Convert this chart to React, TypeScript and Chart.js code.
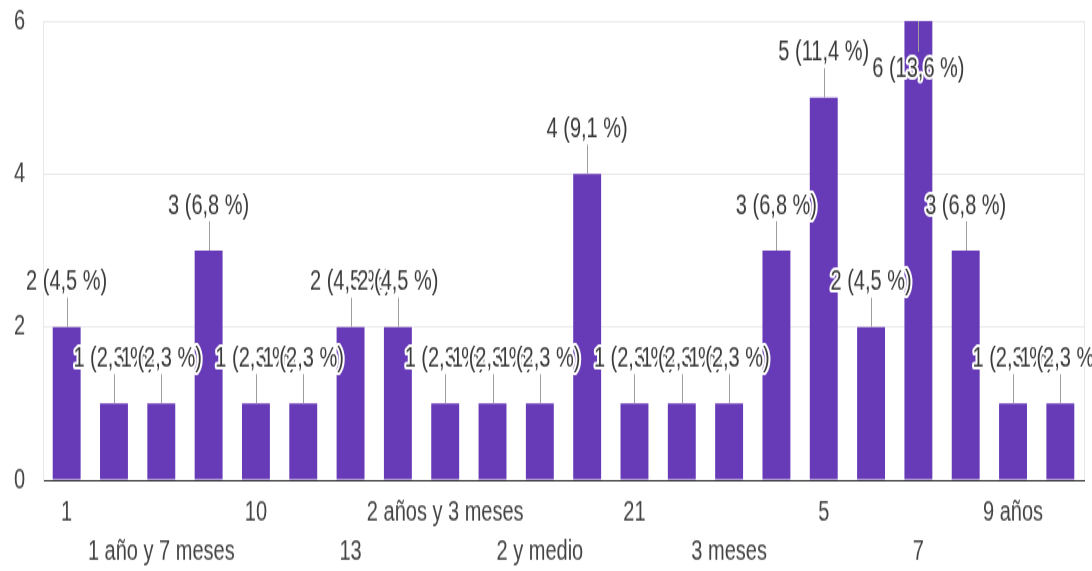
import React, { useEffect, useRef } from 'react';
import { Chart, registerables } from 'chart.js';

Chart.register(...registerables);

// ---- data ----
const categories: string[] = [
  '1', '1 año', '1 año y 7 meses', '1 y medio', '10', '12', '13', '2',
  '2 años y 3 meses', '2 meses', '2 y medio', '20', '21', '3', '3 meses',
  '4', '5', '6', '7', '8', '9 años', '9 meses',
];
const counts: number[] = [2, 1, 1, 3, 1, 1, 2, 2, 1, 1, 1, 4, 1, 1, 1, 3, 5, 2, 6, 3, 1, 1];
const yTickValues: number[] = [0, 2, 4, 6];

// ---- layout (canvas is drawn at logical height and stretched vertically) ----
const OUT_W = 1092;
const OUT_H = 571;
const LOG_H = 408;
const FONT = '"Liberation Sans", Arial, Helvetica, sans-serif';
const BAR_COLOR = '#673ab7';
const TEXT_COLOR = '#444444';
const GRID_COLOR = '#e8e8e8';

const total = counts.reduce((a, b) => a + b, 0);
const labelText = (v: number) => `${v} (${((v / total) * 100).toFixed(1).replace('.', ',')} %)`;

const framePlugin = {
  id: 'frameRight',
  beforeDatasetsDraw(chart: any) {
    const { ctx, chartArea } = chart;
    ctx.save();
    ctx.strokeStyle = GRID_COLOR;
    ctx.lineWidth = 1;
    ctx.beginPath();
    const x = Math.round(chartArea.right) + 0.5;
    ctx.moveTo(x, chartArea.top);
    ctx.lineTo(x, chartArea.bottom);
    ctx.stroke();
    ctx.restore();
  },
};

const annotationPlugin = {
  id: 'barAnnotations',
  afterDatasetsDraw(chart: any) {
    const { ctx } = chart;
    const meta = chart.getDatasetMeta(0);
    const items = meta.data.map((el: any, i: number) => {
      const top = el.y;
      const inside = top - 42 < 0;
      return {
        x: el.x,
        top,
        l1: inside ? top + 22 : top - 21,
        ly: inside ? top + 34 : top - 32,
        txt: labelText(counts[i]),
      };
    });
    ctx.save();
    ctx.strokeStyle = '#9e9e9e';
    ctx.lineWidth = 1;
    items.forEach((it: any) => {
      const x = Math.round(it.x) + 0.5;
      ctx.beginPath();
      ctx.moveTo(x, it.top);
      ctx.lineTo(x, it.l1);
      ctx.stroke();
    });
    ctx.font = `20px ${FONT}`;
    ctx.textAlign = 'center';
    ctx.textBaseline = 'middle';
    ctx.lineJoin = 'round';
    items.forEach((it: any) => {
      ctx.lineWidth = 4;
      ctx.strokeStyle = '#ffffff';
      ctx.strokeText(it.txt, it.x, it.ly);
      ctx.fillStyle = '#3a3a3a';
      ctx.fillText(it.txt, it.x, it.ly);
    });
    ctx.restore();
  },
};

export default function App() {
  const canvasRef = useRef<HTMLCanvasElement | null>(null);

  useEffect(() => {
    const canvas = canvasRef.current;
    if (!canvas) return;
    const chart = new Chart(canvas, {
      type: 'bar',
      data: {
        labels: categories,
        datasets: [
          {
            data: counts,
            backgroundColor: BAR_COLOR,
            borderWidth: 0,
            barPercentage: 0.59,
            categoryPercentage: 1,
          },
        ],
      },
      options: {
        responsive: false,
        devicePixelRatio: 1,
        animation: false,
        layout: { padding: { top: 15, right: 8, left: 0, bottom: 0 } },
        plugins: {
          legend: { display: false },
          tooltip: { enabled: false },
        },
        scales: {
          x: {
            z: 1,
            grid: { display: false, drawTicks: false },
            border: { display: true, color: '#333333', width: 1 },
            ticks: {
              autoSkip: false,
              maxRotation: 0,
              minRotation: 0,
              padding: 9,
              color: TEXT_COLOR,
              font: { family: FONT, size: 20, lineHeight: 1.4 },
              callback: (_v: any, i: number) => {
                if (i % 4 === 0) return categories[i];
                if (i % 4 === 2) return ['', categories[i]];
                return '';
              },
            },
            afterFit: (s: any) => {
              s.height = LOG_H - 343;
              s.paddingLeft = 0;
              s.paddingRight = 0;
            },
          },
          y: {
            min: 0,
            max: 6,
            afterBuildTicks: (s: any) => {
              s.ticks = yTickValues.map((v) => ({ value: v }));
            },
            ticks: {
              padding: 18,
              color: TEXT_COLOR,
              font: { family: FONT, size: 20, lineHeight: 1.4 },
            },
            grid: {
              drawTicks: false,
              color: (c: any) => (c.tick && c.tick.value === 0 ? '#333333' : GRID_COLOR),
            },
            border: { display: true, color: GRID_COLOR },
            afterFit: (s: any) => {
              s.width = 43;
              s.paddingTop = 0;
              s.paddingBottom = 0;
            },
          },
        },
      },
      plugins: [framePlugin, annotationPlugin],
    });
    return () => chart.destroy();
  }, []);

  return (
    <div style={{ position: 'absolute', left: 0, top: 0, width: OUT_W, height: OUT_H, background: '#fff' }}>
      <canvas
        ref={canvasRef}
        width={OUT_W}
        height={LOG_H}
        style={{ display: 'block', width: `${OUT_W}px`, height: `${OUT_H}px` }}
      />
    </div>
  );
}
